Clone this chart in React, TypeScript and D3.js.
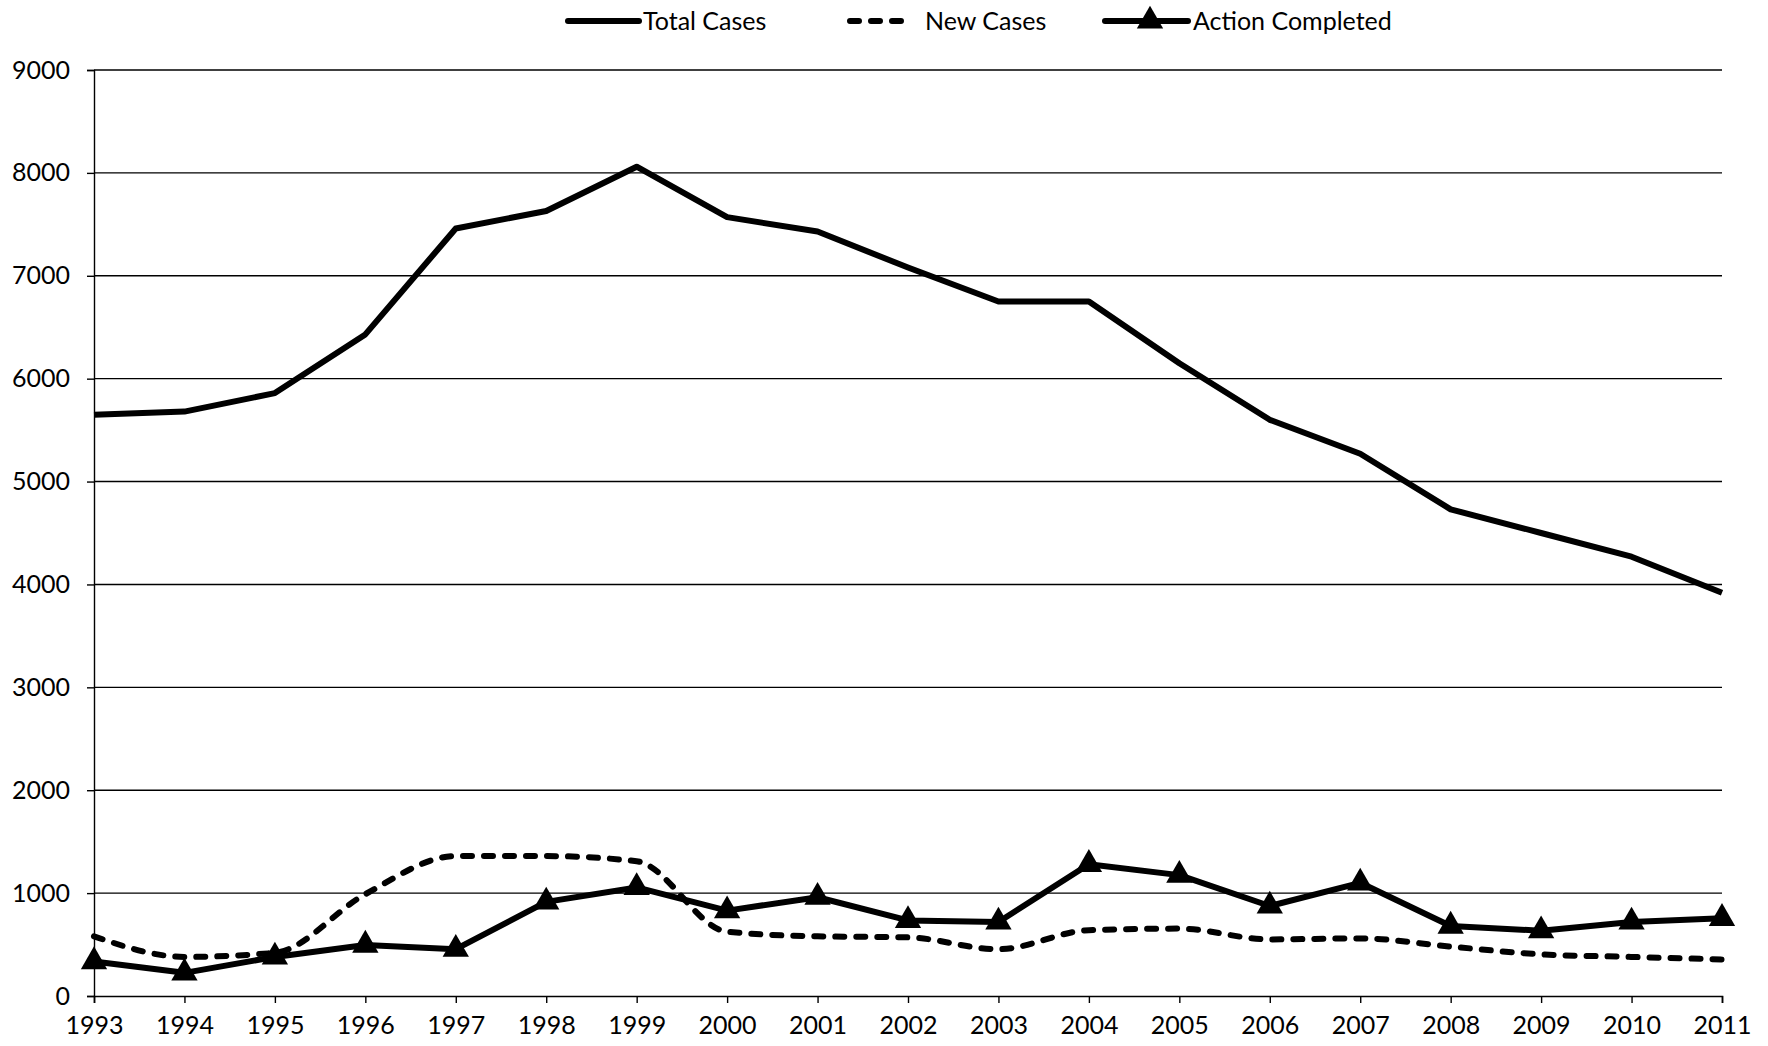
import React, { useEffect, useRef } from "react";
import * as d3 from "d3";

const years = [
  "1993", "1994", "1995", "1996", "1997", "1998", "1999", "2000", "2001", "2002",
  "2003", "2004", "2005", "2006", "2007", "2008", "2009", "2010", "2011",
];
const totalCases = [
  5650, 5680, 5860, 6430, 7460, 7630, 8060, 7570, 7430, 7080,
  6750, 6750, 6150, 5600, 5270, 4730, 4500, 4270, 3920,
];
const newCases = [
  580, 380, 420, 990, 1360, 1360, 1310, 625, 580, 570,
  455, 640, 655, 550, 560, 480, 405, 380, 355,
];
const actionCompleted = [
  335, 225, 380, 495, 455, 915, 1055, 830, 960, 735,
  720, 1280, 1175, 875, 1100, 680, 635, 720, 755,
];
const yTicks = [0, 1000, 2000, 3000, 4000, 5000, 6000, 7000, 8000, 9000];

const FONT = "Lato, Carlito, Calibri, sans-serif";
const FS = 25;

export default function App() {
  const ref = useRef<SVGSVGElement>(null);

  useEffect(() => {
    const svg = d3.select(ref.current);
    svg.selectAll("*").remove();

    const left = 94;
    const right = 1722;
    const top = 70;
    const bottom = 996;

    const x = d3.scalePoint().domain(years).range([left, right]);
    const y = d3.scaleLinear().domain([0, 9000]).range([bottom, top]);

    // grid lines
    svg.append("g")
      .selectAll("line")
      .data(yTicks.filter((d) => d > 0))
      .enter()
      .append("line")
      .attr("x1", left)
      .attr("x2", right)
      .attr("y1", (d) => y(d))
      .attr("y2", (d) => y(d))
      .attr("stroke", "#000")
      .attr("stroke-width", 1.4);

    // y axis
    const yAxis = d3.axisLeft(y).tickValues(yTicks).tickSize(7).tickPadding(17).tickFormat((d) => String(d));
    const gy = svg.append("g").attr("transform", `translate(${left},0)`).call(yAxis);
    gy.select(".domain").attr("stroke", "#000").attr("stroke-width", 1.4);
    gy.selectAll(".tick line").attr("stroke", "#000").attr("stroke-width", 1.4);
    gy.selectAll("text")
      .attr("font-family", FONT)
      .attr("font-size", FS)
      .attr("fill", "#000");

    // x axis
    const xAxis = d3.axisBottom(x).tickSize(7).tickPadding(13);
    const gx = svg.append("g").attr("transform", `translate(0,${bottom})`).call(xAxis);
    gx.select(".domain").attr("stroke", "#000").attr("stroke-width", 1.6);
    gx.selectAll(".tick line").attr("stroke", "#000").attr("stroke-width", 1.4);
    gx.selectAll("text")
      .attr("font-family", FONT)
      .attr("font-size", FS)
      .attr("fill", "#000");

    const straight = d3
      .line<number>()
      .x((_, i) => x(years[i]) as number)
      .y((d) => y(d));
    const smooth = d3
      .line<number>()
      .x((_, i) => x(years[i]) as number)
      .y((d) => y(d))
      .curve(d3.curveMonotoneX);

    // Total Cases
    svg.append("path")
      .attr("d", straight(totalCases))
      .attr("fill", "none")
      .attr("stroke", "#000")
      .attr("stroke-width", 6)
      .attr("stroke-linejoin", "round");

    // New Cases
    svg.append("path")
      .attr("d", smooth(newCases))
      .attr("fill", "none")
      .attr("stroke", "#000")
      .attr("stroke-width", 6)
      .attr("stroke-linecap", "round")
      .attr("stroke-dasharray", "9,12");

    // Action Completed
    svg.append("path")
      .attr("d", straight(actionCompleted))
      .attr("fill", "none")
      .attr("stroke", "#000")
      .attr("stroke-width", 6)
      .attr("stroke-linejoin", "round");

    const tri = d3.symbol().type(d3.symbolTriangle).size(300);
    svg.append("g")
      .selectAll("path")
      .data(actionCompleted)
      .enter()
      .append("path")
      .attr("d", tri)
      .attr("transform", (d, i) => `translate(${x(years[i])},${y(d)})`)
      .attr("fill", "#000");

    // legend
    const lg = svg.append("g").attr("font-family", FONT).attr("font-size", FS);
    const ly = 21;
    lg.append("line").attr("x1", 568).attr("x2", 639).attr("y1", ly).attr("y2", ly)
      .attr("stroke", "#000").attr("stroke-width", 6).attr("stroke-linecap", "round");
    lg.append("text").attr("x", 643).attr("y", ly).attr("dy", "0.35em").text("Total Cases");

    lg.append("line").attr("x1", 850).attr("x2", 913).attr("y1", ly).attr("y2", ly)
      .attr("stroke", "#000").attr("stroke-width", 6).attr("stroke-linecap", "round")
      .attr("stroke-dasharray", "9,12");
    lg.append("text").attr("x", 925).attr("y", ly).attr("dy", "0.35em").text("New Cases");

    lg.append("line").attr("x1", 1105).attr("x2", 1188).attr("y1", ly).attr("y2", ly)
      .attr("stroke", "#000").attr("stroke-width", 6).attr("stroke-linecap", "round");
    lg.append("path").attr("d", tri).attr("transform", `translate(1150,${ly})`).attr("fill", "#000");
    lg.append("text").attr("x", 1193).attr("y", ly).attr("dy", "0.35em").text("Action Completed");
  }, []);

  return (
    <svg
      ref={ref}
      width={1768}
      height={1046}
      style={{ position: "absolute", left: 0, top: 0, background: "#fff" }}
    />
  );
}
